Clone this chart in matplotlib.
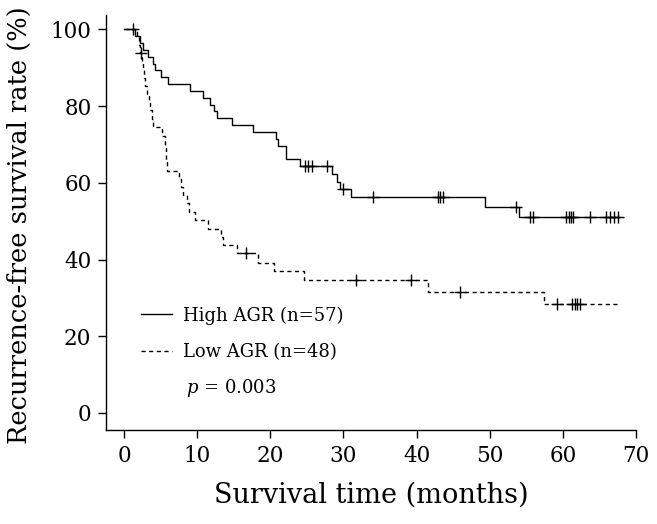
import matplotlib
matplotlib.use("Agg")
import matplotlib.pyplot as plt
from matplotlib.lines import Line2D
import numpy as np

# Kaplan-Meier curves (months, % recurrence-free)
high_times = [0, 1.5, 2.2, 2.6, 3.3, 3.9, 4.3, 5.1, 6.0, 9.0, 10.8, 11.8, 12.3, 12.7,
              14.8, 17.6, 20.8, 21.0, 22.1, 22.2, 24.0, 28.5, 29.1, 29.5, 31.0, 49.3, 54.0]
high_surv = [100, 98.2, 96.4, 94.6, 92.9, 91.1, 89.3, 87.5, 85.7, 83.9, 82.1, 80.4, 78.6, 76.8,
             75.0, 73.2, 71.4, 69.6, 67.9, 66.1, 64.3, 62.3, 60.3, 58.3, 56.2, 53.7, 51.2]
high_end = 67.7
high_censor = [1.2, 24.8, 25.2, 25.7, 27.7, 30.0, 34.0, 42.9, 43.25, 43.6, 53.6, 55.5, 55.9,
               60.4, 60.9, 61.1, 61.4, 63.7, 65.9, 66.5, 67.0, 67.6]

low_times = [0, 1.8, 2.0, 2.2, 2.5, 2.6, 2.7, 2.9, 3.1, 3.4, 3.6, 3.8, 3.9, 5.2, 5.6, 5.7,
             5.8, 5.9, 7.5, 7.8, 8.0, 8.6, 8.9, 9.7, 11.5, 13.3, 13.5, 15.5, 18.3, 20.5,
             24.6, 41.5, 57.4]
low_surv = [100, 97.9, 95.8, 93.8, 91.6, 89.5, 87.4, 85.2, 83.1, 81.0, 78.9, 76.7, 74.6, 72.2,
            69.9, 67.6, 65.4, 63.1, 61.0, 58.9, 56.8, 54.7, 52.4, 50.2, 48.0, 45.8, 43.7,
            41.6, 39.2, 37.0, 34.6, 31.6, 28.4]
low_end = 67.6
low_censor = [2.3, 16.7, 31.7, 39.2, 45.9, 59.2, 61.3, 61.6, 62.0, 62.3]

labels = ["High AGR (n=57)", "Low AGR (n=48)"]
p_text = "$p$ = 0.003"

plt.rcParams["font.family"] = "DejaVu Serif"
plt.rcParams["mathtext.fontset"] = "dejavuserif"

fig = plt.figure(figsize=(6.57, 5.24), dpi=100)
ax = fig.add_axes([0.1613, 0.179, 0.8067, 0.792])

DASH = (0, (3, 2.5))


def draw_km(times, surv, end, censor, style):
    t = np.append(times, end)
    s = np.append(surv, surv[-1])
    ax.step(t, s, where="post", color="black", lw=1.0, linestyle=style)
    # censor marks sit on the curve level at that time
    idx = np.searchsorted(times, censor, side="right") - 1
    ax.plot(censor, np.array(surv)[idx], linestyle="none", marker="+",
            color="black", markersize=8, mew=1.0)


draw_km(high_times, high_surv, high_end, high_censor, "-")
draw_km(low_times, low_surv, low_end, low_censor, DASH)

ax.set_xlim(-2.47, 70)
ax.set_ylim(-4.5, 103.7)
ax.set_xticks(range(0, 71, 10))
ax.set_yticks(range(0, 101, 20))
ax.spines["top"].set_visible(False)
ax.spines["right"].set_visible(False)
ax.spines["left"].set_linewidth(1.0)
ax.spines["bottom"].set_linewidth(1.0)
ax.tick_params(direction="out", length=5.5, width=1.0, labelsize=15.5, pad=5)
ax.set_xlabel("Survival time (months)", fontsize=19.5, labelpad=11)
ax.set_ylabel("Recurrence-free survival rate (%)", fontsize=18.5)
ax.yaxis.set_label_coords(-0.163, 0.494)
ax.yaxis.label.set_verticalalignment("center")
ax.yaxis.label.set_horizontalalignment("center")

handles = [Line2D([], [], color="black", lw=1.0, linestyle="-"),
           Line2D([], [], color="black", lw=1.0, linestyle=DASH)]
ax.legend(handles, labels, loc="upper left", bbox_to_anchor=(0.066, 0.298),
          frameon=False, fontsize=13, handlelength=1.7, handletextpad=0.65,
          labelspacing=1.0, borderaxespad=0, borderpad=0)
ax.text(0.151, 0.101, p_text, transform=ax.transAxes, fontsize=13, va="center")

plt.savefig("out.png", dpi=100)
